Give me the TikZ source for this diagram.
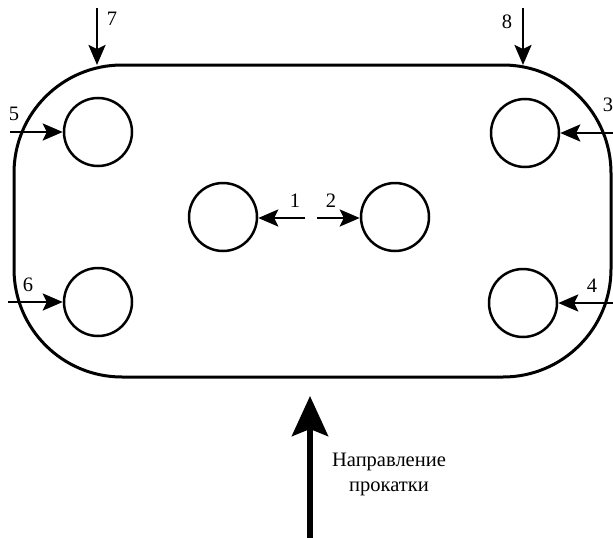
\documentclass[tikz,border=0pt]{standalone}
\usepackage{fontspec}
\setmainfont{Liberation Serif}
\usetikzlibrary{arrows.meta}
\begin{document}
\begin{tikzpicture}[x=1pt,y=-1pt,
  hole/.style={circle,draw,line width=2.5pt,minimum size=68pt,inner sep=0pt},
  lab/.style={font=\fontsize{20.5}{24}\selectfont,inner sep=0pt},
  force/.style={line width=2.5pt,-{Stealth[length=20pt,width=17pt,inset=4pt]}},
  roll/.style={line width=6pt,-{Stealth[length=40pt,width=36pt,inset=7pt]}}]
\useasboundingbox (0,0) rectangle (613,538);
% plate outline
\draw[line width=3pt,rounded corners=108pt] (14,65) rectangle (611,377);
% holes
\node[hole] (c5) at (98,132) {};
\node[hole] (c6) at (98,302) {};
\node[hole] (c3) at (525,133) {};
\node[hole] (c4) at (523,303) {};
\node[hole] (c1) at (223,217) {};
\node[hole] (c2) at (395,217) {};
% free ends
\coordinate (s7) at (97,8);   \coordinate (e7) at (97,65);
\coordinate (s8) at (523,8);  \coordinate (e8) at (523,65);
\coordinate (s5) at (10,132);
\coordinate (s6) at (8,302);
\coordinate (s3) at (613,133);
\coordinate (s4) at (613,303);
\coordinate (s1) at (305,218);
\coordinate (s2) at (317,218);
\coordinate (sr) at (310,538); \coordinate (er) at (310,396);
% force arrows
\draw[force] (s7) -- (e7);
\draw[force] (s8) -- (e8);
\draw[force] (s5) -- (c5.west);
\draw[force] (s6) -- (c6.west);
\draw[force] (s3) -- (c3.east);
\draw[force] (s4) -- (c4.east);
\draw[force] (s1) -- (c1.east |- s1);
\draw[force] (s2) -- (c2.west |- s2);
\draw[roll] (sr) -- (er);
% labels
\node[lab] (l7) at (112,19) {7};
\node[lab] (l8) at (507,22) {8};
\node[lab] (l5) at (14,114) {5};
\node[lab] (l3) at (608,105) {3};
\node[lab] (l6) at (28,285) {6};
\node[lab] (l4) at (592,286) {4};
\node[lab] (l1) at (295,201) {1};
\node[lab] (l2) at (331,201) {2};
\node[font=\fontsize{20.5}{25}\selectfont,align=center,inner sep=0pt] (dir) at (389,474) {Направление\\прокатки};
\end{tikzpicture}
\end{document}
